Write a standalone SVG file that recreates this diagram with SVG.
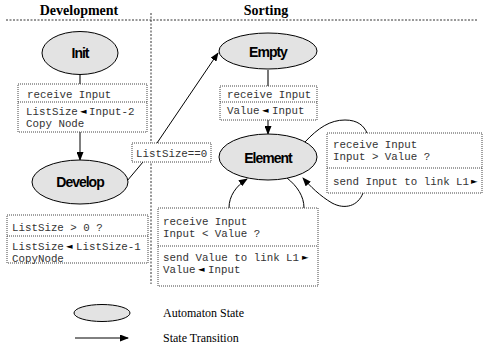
<svg xmlns="http://www.w3.org/2000/svg" width="484" height="345" viewBox="0 0 484 345">
<style>
.hdr{font-family:"Liberation Serif",serif;font-weight:bold;font-size:14px;fill:#000}
.leg{font-family:"Liberation Serif",serif;font-size:12px;fill:#000}
.st{fill:#e3e3e3;stroke:#000;stroke-width:1}
.sl{font-family:"Liberation Sans Narrow","Liberation Sans",sans-serif;font-weight:bold;font-size:14px;letter-spacing:-1px;fill:#000;text-anchor:middle}
.box{fill:#fff;stroke:#444;stroke-width:1;stroke-dasharray:1 1}
.div{stroke:#444;stroke-width:1;stroke-dasharray:1 1}
.sep{stroke:#333;stroke-width:1;stroke-dasharray:2 1.5;fill:none}
.code{font-family:"Liberation Mono",monospace;font-size:10.8px;fill:#333}
.ar{font-family:"DejaVu Sans",sans-serif;font-size:8.5px;fill:#000}
.ln{stroke:#000;stroke-width:1;fill:none}
.gl{stroke:#777;stroke-width:2;fill:none}
</style>
<defs>
<marker id="ah" markerWidth="9" markerHeight="7" refX="8" refY="3.5" orient="auto" markerUnits="userSpaceOnUse">
<path d="M0,0 L9,3.5 L0,7 Z" fill="#000"/>
</marker>
</defs>

<g id="headers">
<text class="hdr" x="79" y="15" text-anchor="middle">Development</text>
<text class="hdr" x="266" y="15" text-anchor="middle">Sorting</text>
<line class="sep" x1="6" y1="20" x2="478" y2="20"/>
<line class="sep" x1="151" y1="13" x2="151" y2="284"/>
</g>

<g id="connectors">
<line class="gl" x1="80" y1="75" x2="80" y2="84"/>
<line class="ln" x1="80" y1="132" x2="80" y2="160" marker-end="url(#ah)"/>
<line class="ln" x1="127" y1="181" x2="143" y2="162"/>
<line class="ln" x1="157" y1="143" x2="218" y2="53" marker-end="url(#ah)"/>
<line class="gl" x1="268" y1="70" x2="268" y2="86"/>
<line class="ln" x1="268" y1="120" x2="268" y2="134" marker-end="url(#ah)"/>
<path class="ln" d="M287,178 C297,186 304,196 304,208"/>
<path class="ln" d="M229,208 C229,196 236,186 247,179" marker-end="url(#ah)"/>
<path class="ln" d="M305,142 C318,128 330,120 345,120 C358,120 364,126 367,133"/>
<path class="ln" d="M363,193 C358,206 345,210 332,203 C320,196 310,186 303,178" marker-end="url(#ah)"/>
</g>

<g id="init">
<ellipse class="st" cx="80" cy="53" rx="38" ry="21.5"/>
<text class="sl" x="80" y="58">Init</text>
</g>

<g id="init-box">
<rect class="box" x="18" y="84" width="129" height="48"/>
<line class="div" x1="18" y1="102" x2="147" y2="102"/>
<text class="code" x="27" y="98">receive Input</text>
<text class="code" x="26" y="115">ListSize</text>
<text class="ar" x="80" y="114">◄</text>
<text class="code" x="89" y="115">Input-2</text>
<text class="code" x="26" y="127">Copy Node</text>
</g>

<g id="develop">
<ellipse class="st" cx="80" cy="182" rx="48" ry="22"/>
<text class="sl" x="80" y="187">Develop</text>
</g>

<g id="develop-box">
<rect class="box" x="7" y="215" width="141" height="48"/>
<line class="div" x1="7" y1="236" x2="148" y2="236"/>
<text class="code" x="12" y="231">ListSize &gt; 0 ?</text>
<text class="code" x="12" y="250">ListSize</text>
<text class="ar" x="66" y="249">◄</text>
<text class="code" x="76" y="250">ListSize-1</text>
<text class="code" x="12" y="262">CopyNode</text>
</g>

<g id="cond-label">
<rect class="box" x="132" y="143" width="79" height="19"/>
<text class="code" x="136" y="157">ListSize==0</text>
</g>

<g id="empty">
<ellipse class="st" cx="268" cy="51" rx="49" ry="18"/>
<text class="sl" x="268" y="57">Empty</text>
</g>

<g id="empty-box">
<rect class="box" x="220" y="86" width="97" height="34"/>
<line class="div" x1="220" y1="102" x2="317" y2="102"/>
<text class="code" x="227" y="98">receive Input</text>
<text class="code" x="227" y="114">Value</text>
<text class="ar" x="262" y="113">◄</text>
<text class="code" x="272" y="114">Input</text>
</g>

<g id="element">
<ellipse class="st" cx="268" cy="157" rx="49" ry="23"/>
<text class="sl" x="268" y="163">Element</text>
</g>

<g id="less-box">
<rect class="box" x="158" y="208" width="160" height="78"/>
<line class="div" x1="158" y1="246" x2="318" y2="246"/>
<text class="code" x="163" y="225">receive Input</text>
<text class="code" x="163" y="237">Input &lt; Value ?</text>
<text class="code" x="163" y="261">send Value to link L1</text>
<text class="ar" x="302" y="260">►</text>
<text class="code" x="163" y="273">Value</text>
<text class="ar" x="198" y="272">◄</text>
<text class="code" x="208" y="273">Input</text>
</g>

<g id="greater-box">
<rect class="box" x="327" y="133" width="155" height="60"/>
<line class="div" x1="327" y1="168" x2="482" y2="168"/>
<text class="code" x="333" y="148">receive Input</text>
<text class="code" x="333" y="160">Input &gt; Value ?</text>
<text class="code" x="333" y="185">send Input to link L1</text>
<text class="ar" x="471" y="184">►</text>
</g>

<g id="legend">
<ellipse class="st" cx="102" cy="313" rx="28" ry="8.5"/>
<line class="ln" x1="75" y1="338" x2="128" y2="338" marker-end="url(#ah)"/>
<text class="leg" x="163" y="317">Automaton State</text>
<text class="leg" x="163" y="342">State Transition</text>
</g>
</svg>
